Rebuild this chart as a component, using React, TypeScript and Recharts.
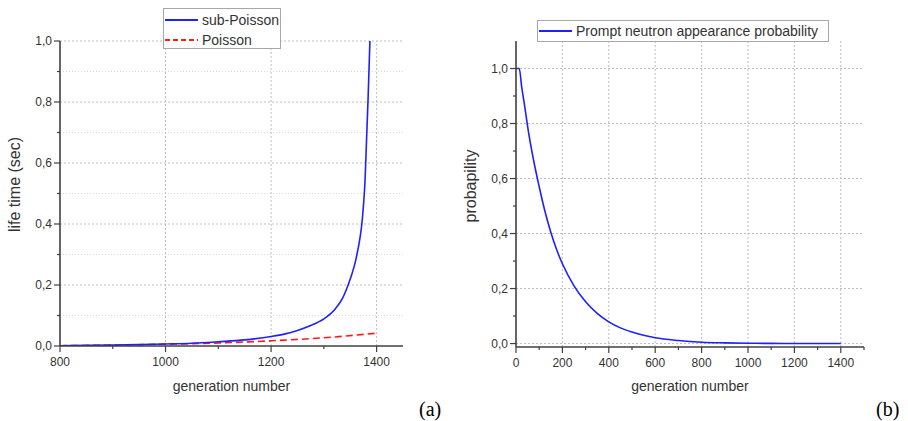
import React from 'react';
import { LineChart, Line, XAxis, YAxis, ReferenceLine, Legend, Label } from 'recharts';

// ---- Data (a) ----
const subPoissonGen = [800, 850, 900, 950, 1000, 1050, 1100, 1150, 1200, 1225, 1250, 1275, 1300, 1320, 1335, 1346, 1353, 1359, 1365, 1369, 1372, 1375, 1378, 1381, 1384, 1387.3];
const subPoissonLife = [0.001, 0.002, 0.003, 0.0045, 0.0066, 0.009, 0.014, 0.02, 0.031, 0.039, 0.051, 0.067, 0.089, 0.118, 0.155, 0.2, 0.235, 0.271, 0.32, 0.36, 0.4, 0.46, 0.54, 0.68, 0.82, 1.0];
const poissonGen = [800, 900, 1000, 1100, 1200, 1300, 1400];
const poissonLife = [0.001, 0.003, 0.006, 0.01, 0.017, 0.027, 0.042];

// ---- Data (b) ----
const probGen = [0, 14, 25, 38, 50, 75, 100, 125, 150, 175, 200, 250, 300, 350, 400, 450, 500, 550, 600, 700, 800, 900, 1000, 1100, 1200, 1300, 1400];
const probValue = [1.0, 1.0, 0.93, 0.86, 0.79, 0.67, 0.57, 0.48, 0.405, 0.342, 0.29, 0.21, 0.152, 0.11, 0.079, 0.057, 0.042, 0.03, 0.021, 0.011, 0.005, 0.0025, 0.0012, 0.0006, 0.0003, 0.0001, 0];

// ---- Ticks ----
const xTicksA = [800, 900, 1000, 1100, 1200, 1300, 1400];
const yTicksA = [0, 0.1, 0.2, 0.3, 0.4, 0.5, 0.6, 0.7, 0.8, 0.9, 1.0];
const xGridA = [1000, 1200, 1400];
const xTicksB = [0, 100, 200, 300, 400, 500, 600, 700, 800, 900, 1000, 1100, 1200, 1300, 1400, 1500];
const yTicksB = [0, 0.1, 0.2, 0.3, 0.4, 0.5, 0.6, 0.7, 0.8, 0.9, 1.0];
const xGridB = [200, 400, 600, 800, 1000, 1200, 1400];
const yGridB = [0, 0.2, 0.4, 0.6, 0.8, 1.0];

const subPoissonData = subPoissonGen.map((g, i) => ({ gen: g, v: subPoissonLife[i] }));
const poissonData = poissonGen.map((g, i) => ({ gen: g, v: poissonLife[i] }));
const probData = probGen.map((g, i) => ({ gen: g, v: probValue[i] }));

const FONT = '"Liberation Sans", Arial, sans-serif';
const AXIS = '#404040';
const TXT = '#333333';
const BLUE = '#2020ff';
const RED = '#ff1a1a';

const XTick = (props: any) => {
  const { x, y, payload, step } = props;
  const major = Math.round(payload.value) % step === 0;
  return (
    <g>
      <line x1={x} x2={x} y1={y} y2={y + (major ? 6 : 3)} stroke={AXIS} strokeWidth={1.2} />
      {major && (
        <text x={x} y={y + 20} textAnchor="middle" fontSize={12} fontFamily={FONT} fill={TXT}>
          {payload.value}
        </text>
      )}
    </g>
  );
};

const YTick = (props: any) => {
  const { x, y, payload } = props;
  const major = Math.round(payload.value * 10) % 2 === 0;
  return (
    <g>
      <line x1={x} x2={x - (major ? 6 : 3)} y1={y} y2={y} stroke={AXIS} strokeWidth={1.2} />
      {major && (
        <text x={x - 8} y={y + 4} textAnchor="end" fontSize={12} fontFamily={FONT} fill={TXT}>
          {payload.value.toFixed(1).replace('.', ',')}
        </text>
      )}
    </g>
  );
};

const LegendRow = ({ color, dash, text, width }: any) => (
  <div style={{ display: 'flex', alignItems: 'center', height: 20 }}>
    <svg width={width} height={10} style={{ marginLeft: 1 }}>
      <line x1={0} x2={width} y1={5} y2={5} stroke={color} strokeWidth={1.8} strokeDasharray={dash} />
    </svg>
    <span style={{ marginLeft: 4, fontSize: 14, fontFamily: FONT, color: TXT, whiteSpace: 'nowrap' }}>{text}</span>
  </div>
);

const LegendA = () => (
  <div style={{ border: '1px solid #a8a8a8', background: '#fff', width: 118, height: 41, paddingTop: 1, boxSizing: 'border-box' }}>
    <LegendRow color={BLUE} text="sub-Poisson" width={33} />
    <LegendRow color={RED} dash="5 3" text="Poisson" width={33} />
  </div>
);

const LegendB = () => (
  <div style={{ border: '1px solid #a8a8a8', background: '#fff', width: 292, height: 22, boxSizing: 'border-box' }}>
    <LegendRow color={BLUE} text="Prompt neutron appearance probability" width={33} />
  </div>
);

const gridMajor = { stroke: '#bdbdbd', strokeDasharray: '2 2', strokeWidth: 1 };
const gridMinor = { stroke: '#dadada', strokeDasharray: '1 2', strokeWidth: 1 };

export default function App() {
  return (
    <div style={{ position: 'absolute', left: 0, top: 0, width: 908, height: 421, background: '#fff', overflow: 'hidden' }}>
      <div style={{ position: 'absolute', left: 0, top: 0 }}>
        <LineChart width={454} height={421} margin={{ top: 41, right: 51, left: 0, bottom: 0 }}>
          {yTicksA.filter((v) => v > 0).map((v) => (
            <ReferenceLine key={'ha' + v} y={v} {...(Math.round(v * 10) % 2 === 0 ? gridMajor : gridMinor)} />
          ))}
          {xGridA.map((v) => (
            <ReferenceLine key={'va' + v} x={v} {...gridMajor} />
          ))}
          <XAxis
            type="number"
            dataKey="gen"
            domain={[800, 1450]}
            ticks={xTicksA}
            interval={0}
            height={75}
            tickSize={0}
            tickMargin={0}
            tickLine={false}
            axisLine={{ stroke: AXIS, strokeWidth: 1.6 }}
            tick={(p: any) => <XTick {...p} step={200} />}
            allowDataOverflow
          >
            <Label
              content={(p: any) => (
                <text x={p.viewBox.x + p.viewBox.width / 2} y={p.viewBox.y + 45} textAnchor="middle" fontSize={14} fontFamily={FONT} fill={TXT}>
                  generation number
                </text>
              )}
            />
          </XAxis>
          <YAxis
            type="number"
            domain={[0, 1]}
            ticks={yTicksA}
            interval={0}
            width={60}
            tickSize={0}
            tickMargin={0}
            tickLine={false}
            axisLine={{ stroke: AXIS, strokeWidth: 1.6 }}
            tick={(p: any) => <YTick {...p} />}
            allowDataOverflow
          >
            <Label
              content={(p: any) => {
                const cx = p.viewBox.x + 14;
                const cy = p.viewBox.y + p.viewBox.height / 2 - 9;
                return (
                  <text x={cx} y={cy} textAnchor="middle" dominantBaseline="central" transform={`rotate(-90, ${cx}, ${cy})`} fontSize={16} fontFamily={FONT} fill={TXT}>
                    life time (sec)
                  </text>
                );
              }}
            />
          </YAxis>
          <Line data={poissonData} dataKey="v" type="monotone" stroke={RED} strokeWidth={1.6} strokeDasharray="7 4" dot={false} isAnimationActive={false} name="Poisson" />
          <Line data={subPoissonData} dataKey="v" type="monotone" stroke={BLUE} strokeWidth={1.6} dot={false} isAnimationActive={false} name="sub-Poisson" />
          <Legend layout="vertical" align="center" verticalAlign="middle" wrapperStyle={{ left: 163, top: 8, width: 'auto' }} content={() => <LegendA />} />
        </LineChart>
      </div>

      <div style={{ position: 'absolute', left: 454, top: 0 }}>
        <LineChart width={454} height={421} margin={{ top: 41, right: 44, left: 0, bottom: 0 }}>
          {yGridB.map((v) => (
            <ReferenceLine key={'hb' + v} y={v} {...gridMajor} />
          ))}
          {xGridB.map((v) => (
            <ReferenceLine key={'vb' + v} x={v} {...gridMajor} />
          ))}
          <XAxis
            type="number"
            dataKey="gen"
            domain={[0, 1500]}
            ticks={xTicksB}
            interval={0}
            height={74}
            tickSize={0}
            tickMargin={0}
            tickLine={false}
            axisLine={{ stroke: AXIS, strokeWidth: 1.6 }}
            tick={(p: any) => <XTick {...p} step={200} />}
            allowDataOverflow
          >
            <Label
              content={(p: any) => (
                <text x={p.viewBox.x + p.viewBox.width / 2} y={p.viewBox.y + 44} textAnchor="middle" fontSize={14} fontFamily={FONT} fill={TXT}>
                  generation number
                </text>
              )}
            />
          </XAxis>
          <YAxis
            type="number"
            domain={[-0.0125, 1.1]}
            ticks={yTicksB}
            interval={0}
            width={62}
            tickSize={0}
            tickMargin={0}
            tickLine={false}
            axisLine={{ stroke: AXIS, strokeWidth: 1.6 }}
            tick={(p: any) => <YTick {...p} />}
            allowDataOverflow
          >
            <Label
              content={(p: any) => {
                const cx = p.viewBox.x + 16;
                const cy = p.viewBox.y + p.viewBox.height / 2 - 8;
                return (
                  <text x={cx} y={cy} textAnchor="middle" dominantBaseline="central" transform={`rotate(-90, ${cx}, ${cy})`} fontSize={16} fontFamily={FONT} fill={TXT}>
                    probapility
                  </text>
                );
              }}
            />
          </YAxis>
          <Line data={probData} dataKey="v" type="monotone" stroke={BLUE} strokeWidth={1.6} dot={false} isAnimationActive={false} name="Prompt neutron appearance probability" />
          <Legend layout="vertical" align="center" verticalAlign="middle" wrapperStyle={{ left: 83, top: 20, width: 'auto' }} content={() => <LegendB />} />
        </LineChart>
      </div>

      <span style={{ position: 'absolute', left: 419, top: 397, fontSize: 20, fontFamily: '"Liberation Serif", "Times New Roman", serif', color: '#000', lineHeight: '24px' }}>(a)</span>
      <span style={{ position: 'absolute', left: 876, top: 397, fontSize: 20, fontFamily: '"Liberation Serif", "Times New Roman", serif', color: '#000', lineHeight: '24px' }}>(b)</span>
    </div>
  );
}
